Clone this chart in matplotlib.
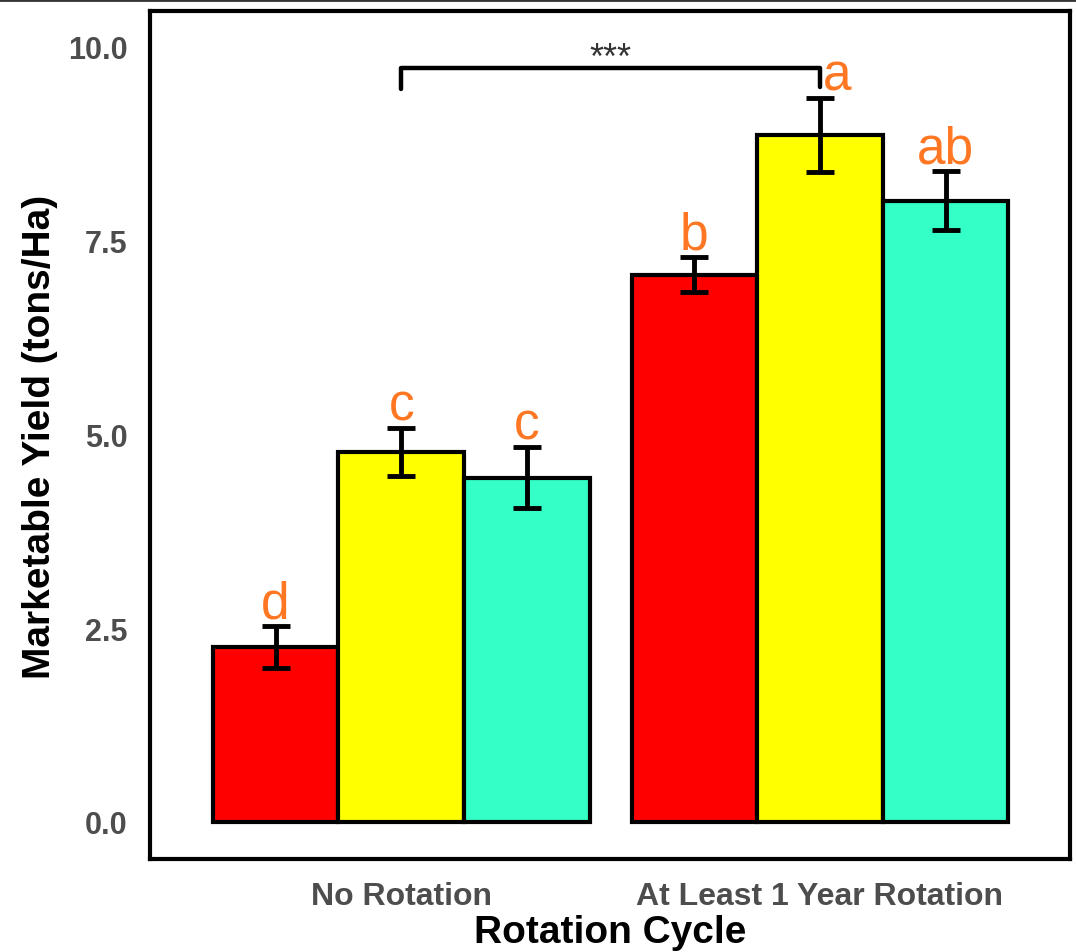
import matplotlib.pyplot as plt
import numpy as np
from matplotlib.lines import Line2D

plt.rcParams['font.family'] = ['Liberation Sans', 'DejaVu Sans']

# Data
cycles = ["No Rotation", "At Least 1 Year Rotation"]
treatments = ["T1", "T2", "T3"]
colors = ["#FF0000", "#FFFF00", "#33FFC6"]
yield_mean = [[2.26, 4.77, 4.44],
              [7.06, 8.86, 8.01]]
yield_se = [[0.27, 0.31, 0.39],
            [0.23, 0.48, 0.38]]
letters = [["d", "c", "c"],
           ["b", "a", "ab"]]

x = np.arange(len(cycles))
bar_w = 0.3
offsets = [-bar_w, 0, bar_w]

fig = plt.figure(figsize=(10.76, 9.53), dpi=100)
ax = fig.add_axes([0.1394, 0.0976, 0.855, 0.8898])

for j in range(len(treatments)):
    means = [yield_mean[i][j] for i in range(len(cycles))]
    ses = [yield_se[i][j] for i in range(len(cycles))]
    ax.bar(x + offsets[j], means, width=bar_w, color=colors[j],
           edgecolor='black', linewidth=3, zorder=2)
    ax.errorbar(x + offsets[j], means, yerr=ses, fmt='none', ecolor='black',
                elinewidth=3.5, capsize=10, capthick=3.5, zorder=3)
    for i in range(len(cycles)):
        dx = 0.04 if letters[i][j] == "a" else 0
        ax.text(x[i] + offsets[j] + dx, means[i] + ses[i] - 0.03, letters[i][j],
                color='#FF7722', fontsize=37, ha='center', va='bottom', zorder=4)

# significance bracket
ax.plot([x[0], x[0], x[1], x[1]], [9.46, 9.72, 9.72, 9.48], color='black',
        lw=3.2, solid_capstyle='round', solid_joinstyle='round', zorder=4)
ax.text((x[0] + x[1]) / 2, 9.62, "***", fontsize=26, color='#333333',
        ha='center', va='bottom')

ax.set_xlim(-0.6, 1.597)
ax.set_ylim(-0.48, 10.46)
ax.set_yticks([0, 2.5, 5, 7.5, 10])
ax.set_yticklabels(["0.0", "2.5", "5.0", "7.5", "10.0"])
ax.set_xticks(x)
ax.set_xticklabels(cycles)
ax.tick_params(axis='both', length=0, labelcolor='#4D4D4D', labelsize=22)
ax.tick_params(axis='x', pad=16, labelsize=23)
ax.tick_params(axis='y', pad=16)
for lab in ax.get_xticklabels() + ax.get_yticklabels():
    lab.set_fontweight('bold')

for s in ax.spines.values():
    s.set_linewidth(3)
    s.set_color('black')

ax.set_xlabel("Rotation Cycle", fontsize=28, fontweight='bold', va='center')
ax.xaxis.set_label_coords(0.5, -0.086)
ax.set_ylabel("Marketable Yield (tons/Ha)", fontsize=28, fontweight='bold', va='center')
ax.yaxis.set_label_coords(-0.1196, 0.499)

fig.add_artist(Line2D([0, 1], [0.999, 0.999], color='#333333', lw=2,
                      transform=fig.transFigure))

fig.savefig("out.png", dpi=100)
